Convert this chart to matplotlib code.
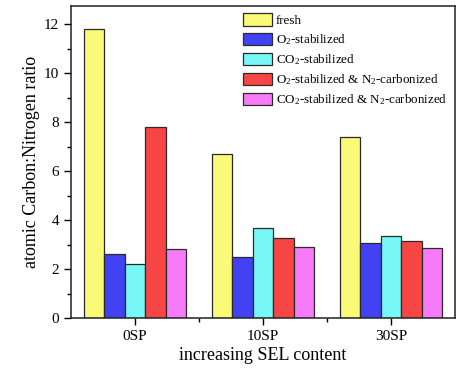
import numpy as np
import matplotlib
matplotlib.use("Agg")
import matplotlib.pyplot as plt
from matplotlib.ticker import MultipleLocator

plt.rcParams['font.family'] = ['Liberation Serif', 'DejaVu Serif']
plt.rcParams['mathtext.fontset'] = 'custom'
plt.rcParams['mathtext.rm'] = 'Liberation Serif'
plt.rcParams['mathtext.it'] = 'Liberation Serif:italic'

# data
groups = ['0SP', '10SP', '30SP']
labels = ['fresh', 'O$_2$-stabilized', 'CO$_2$-stabilized',
          'O$_2$-stabilized & N$_2$-carbonized',
          'CO$_2$-stabilized & N$_2$-carbonized']
fresh = [11.8, 6.68, 7.4]
o2_stab = [2.6, 2.48, 3.05]
co2_stab = [2.19, 3.69, 3.36]
o2_carb = [7.8, 3.27, 3.14]
co2_carb = [2.83, 2.91, 2.84]
colors = ['#FAFA78', '#4242F5', '#78F7F7', '#F74545', '#F77BF7']

series = [fresh, o2_stab, co2_stab, o2_carb, co2_carb]

fig = plt.figure(figsize=(4.75, 3.76), dpi=100)
ax = fig.add_axes([0.1495, 0.154, 0.8085, 0.831])

x = np.arange(len(groups))
w = 0.16
for i, (vals, lab, c) in enumerate(zip(series, labels, colors)):
    ax.bar(x + (i - 2) * w, vals, w, color=c, edgecolor='#2a2a2a',
           linewidth=0.9, label=lab)

ax.set_xlim(-0.5, 2.5)
ax.set_ylim(0, 12.75)
ax.set_xticks(x)
ax.set_xticklabels(groups)
ax.set_xticks([0.5, 1.5], minor=True)
ax.yaxis.set_major_locator(MultipleLocator(2))
ax.yaxis.set_minor_locator(MultipleLocator(1))
ax.tick_params(axis='both', which='major', direction='out', length=5,
               width=1, labelsize=11, top=False, right=False)
ax.tick_params(axis='both', which='minor', direction='out', length=3,
               width=1, top=False, right=False)
for s in ax.spines.values():
    s.set_linewidth(1.1)
    s.set_color('#222222')

ax.set_xlabel('increasing SEL content', fontsize=13, labelpad=3)
ax.set_ylabel('atomic Carbon:Nitrogen ratio', fontsize=13, labelpad=3)

ax.legend(loc='upper right', bbox_to_anchor=(1.0, 1.0), frameon=False,
          fontsize=9.4, handlelength=2.2, handleheight=1.1,
          handletextpad=0.3, labelspacing=0.4, borderaxespad=0.2)

fig.savefig('out.png', dpi=100)
